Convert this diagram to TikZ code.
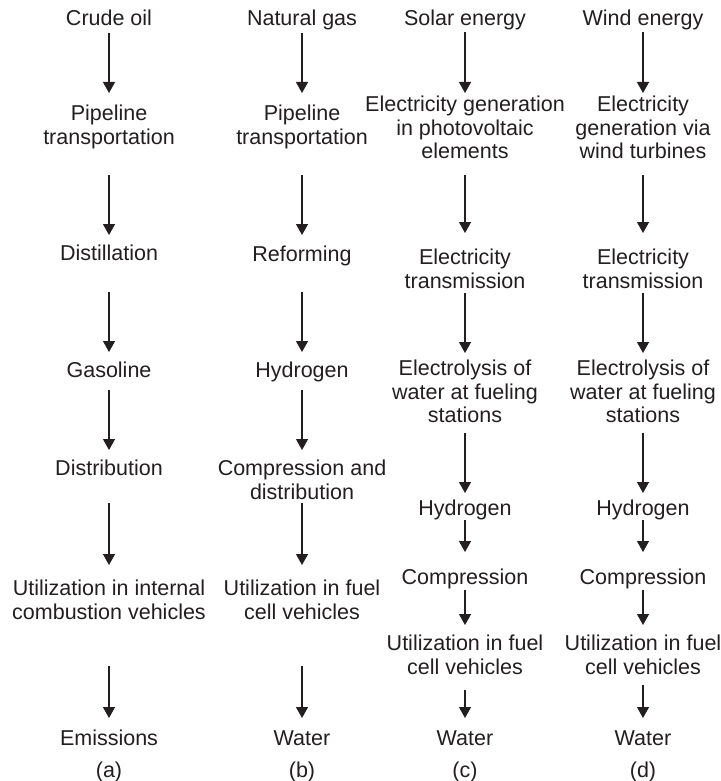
\documentclass[tikz,border=0pt]{standalone}
\usepackage{fontspec}
\setmainfont{Liberation Sans}
\usetikzlibrary{arrows.meta}
\definecolor{ink}{RGB}{35,31,32}
\begin{document}
\begin{tikzpicture}[x=1pt,y=-1pt,
  txt/.style={align=center, inner sep=0pt, text=ink, font=\fontsize{21.5}{23.5}\selectfont},
  arr/.style={draw=ink, line width=1.3pt, -{Triangle[width=12pt,length=11pt]}}]
\fill[white] (0,0) rectangle (720,781);
\useasboundingbox (0,0) rectangle (720,781);
% column (a)
\node[txt] (a1) at (109,21) {\strut Crude oil};
\node[txt] (a2) at (109,127.75) {\strut Pipeline\\\strut transportation};
\node[txt] (a3) at (109,256) {\strut Distillation};
\node[txt] (a4) at (109,373) {\strut Gasoline};
\node[txt] (a5) at (109,471) {\strut Distribution};
\node[txt] (a6) at (109,602.75) {\strut Utilization in internal\\\strut combustion vehicles};
\node[txt] (a7) at (109,741) {\strut Emissions};
\node[txt] (la) at (109,773) {\strut (a)};
% column (b)
\node[txt] (b1) at (302,21) {\strut Natural gas};
\node[txt] (b2) at (302,127.75) {\strut Pipeline\\\strut transportation};
\node[txt] (b3) at (302,257) {\strut Reforming};
\node[txt] (b4) at (302,373) {\strut Hydrogen};
\node[txt] (b5) at (302,482.75) {\strut Compression and\\\strut distribution};
\node[txt] (b6) at (302,602.75) {\strut Utilization in fuel\\\strut cell vehicles};
\node[txt] (b7) at (302,741) {\strut Water};
\node[txt] (lb) at (302,773) {\strut (b)};
% column (c)
\node[txt] (c1) at (465,21) {\strut Solar energy};
\node[txt] (c2) at (465,130.5) {\strut Electricity generation\\\strut in photovoltaic\\\strut elements};
\node[txt] (c3) at (465,271.75) {\strut Electricity\\\strut transmission};
\node[txt] (c4) at (465,394.5) {\strut Electrolysis of\\\strut water at fueling\\\strut stations};
\node[txt] (c5) at (465,511) {\strut Hydrogen};
\node[txt] (c6) at (465,580) {\strut Compression};
\node[txt] (c7) at (465,657.75) {\strut Utilization in fuel\\\strut cell vehicles};
\node[txt] (c8) at (465,741) {\strut Water};
\node[txt] (lc) at (465,773) {\strut (c)};
% column (d)
\node[txt] (d1) at (643,21) {\strut Wind energy};
\node[txt] (d2) at (643,130.5) {\strut Electricity\\\strut generation via\\\strut wind turbines};
\node[txt] (d3) at (643,271.75) {\strut Electricity\\\strut transmission};
\node[txt] (d4) at (643,394.5) {\strut Electrolysis of\\\strut water at fueling\\\strut stations};
\node[txt] (d5) at (643,511) {\strut Hydrogen};
\node[txt] (d6) at (643,580) {\strut Compression};
\node[txt] (d7) at (643,657.75) {\strut Utilization in fuel\\\strut cell vehicles};
\node[txt] (d8) at (643,741) {\strut Water};
\node[txt] (ld) at (643,773) {\strut (d)};
% arrows (a)
\draw[arr, shorten <=12pt, shorten >=34.75pt] (a1.center) -- (a2.center);
\draw[arr, shorten <=47.25pt, shorten >=21pt] (a2.center) -- (a3.center);
\draw[arr, shorten <=36pt, shorten >=21pt] (a3.center) -- (a4.center);
\draw[arr, shorten <=17pt, shorten >=21pt] (a4.center) -- (a5.center);
\draw[arr, shorten <=32pt, shorten >=37.75pt] (a5.center) -- (a6.center);
\draw[arr, shorten <=63.25pt, shorten >=23pt] (a6.center) -- (a7.center);
% arrows (b)
\draw[arr, shorten <=12pt, shorten >=34.75pt] (b1.center) -- (b2.center);
\draw[arr, shorten <=47.25pt, shorten >=22pt] (b2.center) -- (b3.center);
\draw[arr, shorten <=35pt, shorten >=21pt] (b3.center) -- (b4.center);
\draw[arr, shorten <=17pt, shorten >=32.75pt] (b4.center) -- (b5.center);
\draw[arr, shorten <=20.25pt, shorten >=37.75pt] (b5.center) -- (b6.center);
\draw[arr, shorten <=63.25pt, shorten >=23pt] (b6.center) -- (b7.center);
% arrows (c)
\draw[arr, shorten <=11pt, shorten >=37.5pt] (c1.center) -- (c2.center);
\draw[arr, shorten <=44.5pt, shorten >=38.75pt] (c2.center) -- (c3.center);
\draw[arr, shorten <=21.25pt, shorten >=41.5pt] (c3.center) -- (c4.center);
\draw[arr, shorten <=38.5pt, shorten >=18pt] (c4.center) -- (c5.center);
\draw[arr, shorten <=9pt, shorten >=28pt] (c5.center) -- (c6.center);
\draw[arr, shorten <=10pt, shorten >=32.75pt] (c6.center) -- (c7.center);
\draw[arr, shorten <=32.25pt, shorten >=23pt] (c7.center) -- (c8.center);
% arrows (d)
\draw[arr, shorten <=11pt, shorten >=37.5pt] (d1.center) -- (d2.center);
\draw[arr, shorten <=44.5pt, shorten >=38.75pt] (d2.center) -- (d3.center);
\draw[arr, shorten <=21.25pt, shorten >=41.5pt] (d3.center) -- (d4.center);
\draw[arr, shorten <=38.5pt, shorten >=18pt] (d4.center) -- (d5.center);
\draw[arr, shorten <=9pt, shorten >=28pt] (d5.center) -- (d6.center);
\draw[arr, shorten <=10pt, shorten >=32.75pt] (d6.center) -- (d7.center);
\draw[arr, shorten <=27.25pt, shorten >=23pt] (d7.center) -- (d8.center);
\end{tikzpicture}
\end{document}
